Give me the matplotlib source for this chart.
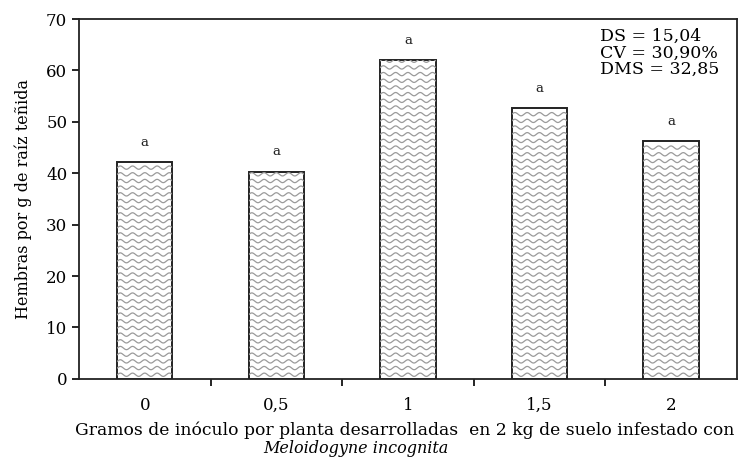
import numpy as np
import matplotlib.pyplot as plt

# --------------------------
# Data
# --------------------------
categories = ["0", "0,5", "1", "1,5", "2"]
hembras = [42.2, 40.3, 62.0, 52.7, 46.3]
letters = ["a", "a", "a", "a", "a"]
stats_text = "DS = 15,04\nCV = 30,90%\nDMS = 32,85"

plt.rcParams["font.family"] = ["DejaVu Serif"]

fig = plt.figure(figsize=(7.39, 4.66), dpi=100)
ax = fig.add_axes([0.107, 0.187, 0.890, 0.772])

x = np.arange(len(categories))
bar_w = 0.42
bars = ax.bar(x, hembras, width=bar_w, color="white", edgecolor="#222222",
              linewidth=1.4, zorder=3)

# wavy fill inside each bar (no wave hatch in matplotlib)
for b in bars:
    x0, w = b.get_x(), b.get_width()
    h = b.get_height()
    xs = np.linspace(x0, x0 + w, 200)
    period = w / 4.5
    amp = 0.32
    for y0 in np.arange(0.8, h, 1.3):
        line, = ax.plot(xs, y0 + amp * np.sin(2 * np.pi * (xs - x0) / period),
                        color="#9a9a9a", lw=0.9, zorder=4)
        line.set_clip_path(b)

for xi, v, t in zip(x, hembras, letters):
    ax.text(xi, v + 2.6, t, ha="center", va="bottom", fontsize=9.5, color="#222222")

ax.set_xlim(-0.5, 4.5)
ax.set_ylim(0, 70)
ax.set_yticks(range(0, 71, 10))
ax.set_xticks(x)
ax.set_xticklabels(categories)
ax.set_xticks(x[:-1] + 0.5, minor=True)
ax.tick_params(axis="x", which="major", length=0, pad=13, labelsize=12)
ax.tick_params(axis="x", which="minor", length=5, direction="out", width=1.2)
ax.tick_params(axis="y", length=5, direction="out", width=1.2, labelsize=12)
for s in ax.spines.values():
    s.set_linewidth(1.3)
    s.set_color("#222222")

ax.set_ylabel("Hembras por g de raíz teñida", fontsize=11.5, labelpad=10)

ax.text(0.792, 0.975, stats_text, transform=ax.transAxes, ha="left", va="top",
        fontsize=12.5, linespacing=0.95)

fig.text(0.548, 0.077, "Gramos de inóculo por planta desarrolladas  en 2 kg de suelo infestado con",
         ha="center", va="center", fontsize=12.3)
fig.text(0.481, 0.038, "Meloidogyne incognita", ha="center", va="center",
         fontsize=11.5, style="italic")

fig.savefig("out.png", dpi=100)
